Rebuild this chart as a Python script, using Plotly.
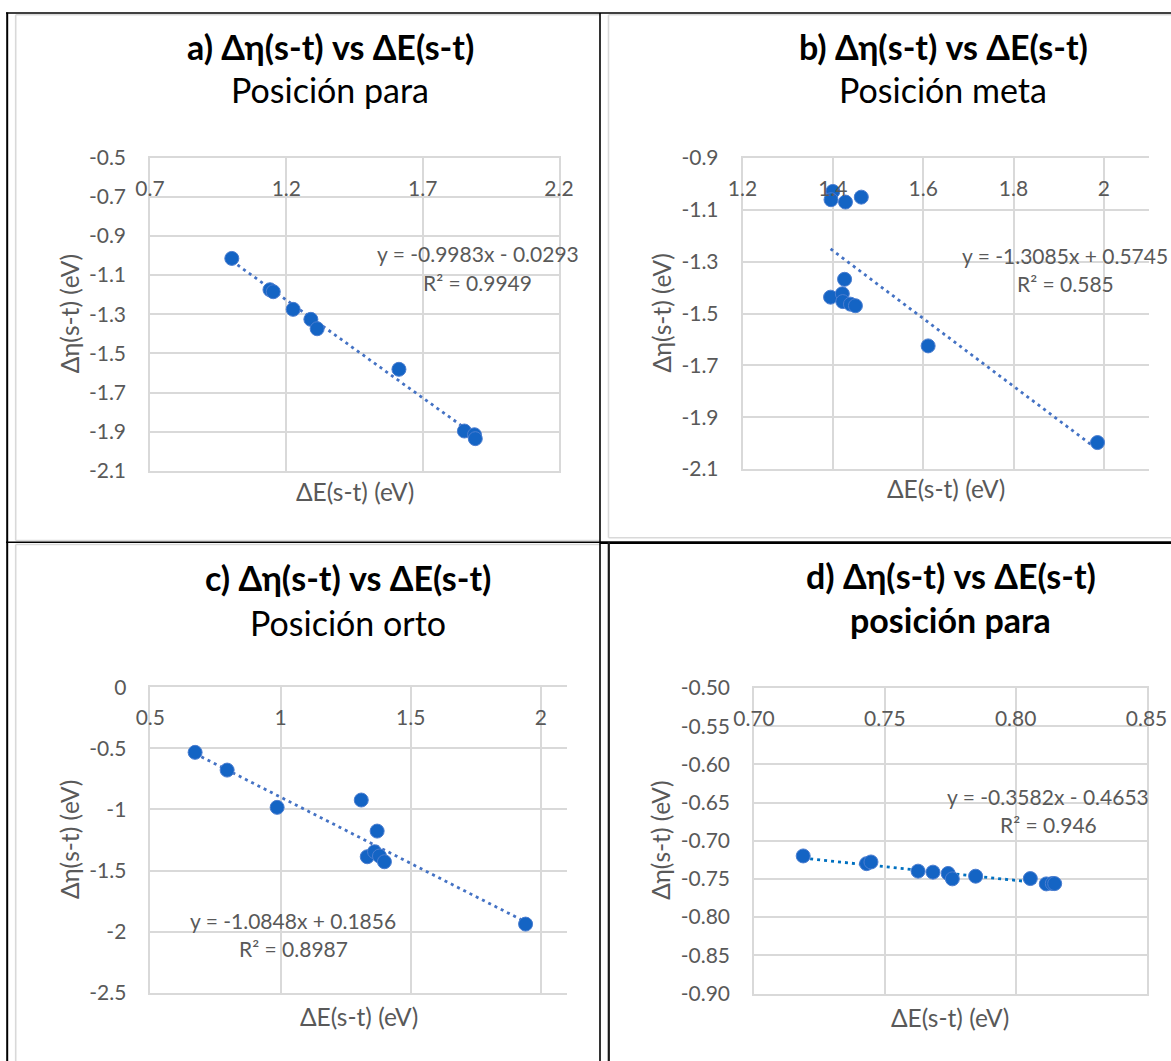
import plotly.graph_objects as go

W, H = 1171, 1061
FONT = "Lato"
GREY_TXT = "#595959"
GRID = "#d9d9d9"
MARKER = "#1464c4"
MARKER_EDGE = "#4a7dd0"

# ---------------- data ----------------
# a) posición para
a_x = [1.000, 1.140, 1.152, 1.225, 1.290, 1.313, 1.613, 1.853, 1.890, 1.893]
a_y = [-1.015, -1.175, -1.185, -1.275, -1.326, -1.374, -1.581, -1.896, -1.915, -1.935]
a_fit = (-0.9983, -0.0293)
a_eq = ["y = -0.9983x - 0.0293", "R² = 0.9949"]
a_xticks = [0.7, 1.2, 1.7, 2.2]
a_xtext = ["0.7", "1.2", "1.7", "2.2"]
a_yticks = [-0.5, -0.7, -0.9, -1.1, -1.3, -1.5, -1.7, -1.9, -2.1]
a_ytext = ["-0.5", "-0.7", "-0.9", "-1.1", "-1.3", "-1.5", "-1.7", "-1.9", "-2.1"]

# b) posición meta
b_x = [1.400, 1.396, 1.428, 1.463, 1.426, 1.395, 1.421, 1.422, 1.439, 1.450, 1.611, 1.986]
b_y = [-1.029, -1.061, -1.070, -1.051, -1.368, -1.437, -1.424, -1.454, -1.464, -1.470, -1.625, -1.998]
b_fit = (-1.3085, 0.5745)
b_eq = ["y = -1.3085x + 0.5745", "R² = 0.585"]
b_xticks = [1.2, 1.4, 1.6, 1.8, 2.0]
b_xtext = ["1.2", "1.4", "1.6", "1.8", "2"]
b_yticks = [-0.9, -1.1, -1.3, -1.5, -1.7, -1.9, -2.1]
b_ytext = ["-0.9", "-1.1", "-1.3", "-1.5", "-1.7", "-1.9", "-2.1"]

# c) posición orto
c_x = [0.672, 0.795, 0.987, 1.310, 1.371, 1.333, 1.361, 1.380, 1.399, 1.941]
c_y = [-0.533, -0.678, -0.983, -0.923, -1.177, -1.387, -1.346, -1.381, -1.428, -1.938]
c_fit = (-1.0848, 0.1856)
c_eq = ["y = -1.0848x + 0.1856", "R² = 0.8987"]
c_xticks = [0.5, 1.0, 1.5, 2.0]
c_xtext = ["0.5", "1", "1.5", "2"]
c_yticks = [0, -0.5, -1, -1.5, -2, -2.5]
c_ytext = ["0", "-0.5", "-1", "-1.5", "-2", "-2.5"]

# d) posición para
d_x = [0.7188, 0.7430, 0.7447, 0.7627, 0.7684, 0.7742, 0.7758, 0.7847, 0.8056, 0.8117, 0.8140, 0.8149]
d_y = [-0.7199, -0.7300, -0.7278, -0.7398, -0.7411, -0.7428, -0.7499, -0.7464, -0.7495, -0.7565, -0.7560, -0.7561]
d_fit = (-0.3582, -0.4653)
d_eq = ["y = -0.3582x - 0.4653", "R² = 0.946"]
d_xticks = [0.70, 0.75, 0.80, 0.85]
d_xtext = ["0.70", "0.75", "0.80", "0.85"]
d_yticks = [-0.50, -0.55, -0.60, -0.65, -0.70, -0.75, -0.80, -0.85, -0.90]
d_ytext = ["-0.50", "-0.55", "-0.60", "-0.65", "-0.70", "-0.75", "-0.80", "-0.85", "-0.90"]

titles = [
    ("a) Δη(s-t) vs ΔE(s-t)", "Posición para", False),
    ("b) Δη(s-t) vs ΔE(s-t)", "Posición meta", False),
    ("c) Δη(s-t) vs ΔE(s-t)", "Posición orto", False),
    ("d) Δη(s-t) vs ΔE(s-t)", "posición para", True),
]
x_title = "ΔE(s-t) (eV)"
y_title = "Δη(s-t) (eV)"

# ---------------- layout geometry (pixels) ----------------
panels = [
    dict(x=a_x, y=a_y, fit=a_fit, eq=a_eq, xt=(a_xticks, a_xtext), yt=(a_yticks, a_ytext),
         xr=[0.7, 2.2], yr=[-2.1, -0.5], px=(150, 559), py=(157.5, 471), closed=True,
         title_c=(330, 46, 89.5), eq_c=(477.5, 254, 282), ytit_x=69, xtit_y=491,
         tcol="#4472c4"),
    dict(x=b_x, y=b_y, fit=b_fit, eq=b_eq, xt=(b_xticks, b_xtext), yt=(b_yticks, b_ytext),
         xr=[1.2, 2.1], yr=[-2.1, -0.9], px=(742.5, 1149), py=(158, 469), closed=False,
         title_c=(943, 46, 89.5), eq_c=(1065, 255.5, 283.5), ytit_x=661, xtit_y=488,
         tcol="#4472c4"),
    dict(x=c_x, y=c_y, fit=c_fit, eq=c_eq, xt=(c_xticks, c_xtext), yt=(c_yticks, c_ytext),
         xr=[0.5, 2.1], yr=[-2.5, 0], px=(150.3, 567), py=(687.2, 992.8), closed=False,
         title_c=(348, 577, 622), eq_c=(293, 920, 948), ytit_x=69, xtit_y=1016,
         tcol="#4472c4"),
    dict(x=d_x, y=d_y, fit=d_fit, eq=d_eq, xt=(d_xticks, d_xtext), yt=(d_yticks, d_ytext),
         xr=[0.70, 0.85], yr=[-0.90, -0.50], px=(754, 1146.5), py=(688, 993.5), closed=True,
         title_c=(950.5, 575, 619), eq_c=(1048, 796.5, 824.5), ytit_x=661, xtit_y=1017,
         tcol="#0070c0"),
]

fig = go.Figure()
annotations = []
layout_axes = {}


def ann(text, cx, cy, size, color=GREY_TXT, angle=0):
    return dict(text=text, x=cx / W, y=1 - cy / H, xref="paper", yref="paper",
                xanchor="center", yanchor="middle", showarrow=False, textangle=angle,
                font=dict(family=FONT, size=size, color=color))


for i, p in enumerate(panels, start=1):
    xa = "x" if i == 1 else f"x{i}"
    ya = "y" if i == 1 else f"y{i}"
    slope, icpt = p["fit"]
    xmin, xmax = min(p["x"]), max(p["x"])
    fig.add_trace(go.Scatter(
        x=[xmin, xmax], y=[slope * xmin + icpt, slope * xmax + icpt],
        mode="lines", line=dict(color=p["tcol"], width=2.8, dash="3px,4px"),
        xaxis=xa, yaxis=ya, showlegend=False, hoverinfo="skip"))
    fig.add_trace(go.Scatter(
        x=p["x"], y=p["y"], mode="markers",
        marker=dict(size=14, color=MARKER, line=dict(color=MARKER_EDGE, width=1)),
        xaxis=xa, yaxis=ya, showlegend=False))

    x0, x1 = p["px"]
    y0, y1 = p["py"]
    kx = "xaxis" if i == 1 else f"xaxis{i}"
    ky = "yaxis" if i == 1 else f"yaxis{i}"
    layout_axes[kx] = dict(
        domain=[x0 / W, x1 / W], range=p["xr"], anchor=ya, side="top", automargin=False,
        tickvals=p["xt"][0], ticktext=p["xt"][1], ticks="",
        ticklabelposition="inside", ticklabeloverflow="allow", ticklabelstandoff=25,
        tickfont=dict(family=FONT, size=21, color=GREY_TXT),
        showgrid=True, gridcolor=GRID, gridwidth=1.5,
        showline=True, linecolor=GRID, linewidth=1.5, mirror=True, zeroline=False)
    layout_axes[ky] = dict(
        domain=[1 - y1 / H, 1 - y0 / H], range=p["yr"], anchor=xa, automargin=False,
        tickvals=p["yt"][0], ticktext=p["yt"][1], ticks="", ticklabelstandoff=18,
        tickfont=dict(family=FONT, size=21, color=GREY_TXT),
        showgrid=True, gridcolor=GRID, gridwidth=1.5,
        showline=True, linecolor=GRID, linewidth=1.5, mirror=p["closed"], zeroline=False)

    t1, t2, bold2 = titles[i - 1]
    tcx, tcy1, tcy2 = p["title_c"]
    annotations.append(ann(f"<b>{t1}</b>", tcx, tcy1, 34, color="#000000"))
    annotations.append(ann(f"<b>{t2}</b>" if bold2 else t2, tcx, tcy2, 34, color="#000000"))
    ecx, ecy1, ecy2 = p["eq_c"]
    annotations.append(ann(p["eq"][0], ecx, ecy1, 21))
    annotations.append(ann(p["eq"][1], ecx, ecy2, 21))
    annotations.append(ann(x_title, (x0 + x1) / 2, p["xtit_y"], 24.5))
    annotations.append(ann(y_title, p["ytit_x"], (y0 + y1) / 2, 24.5, angle=-90))


def line(xa, ya, xb, yb, color, width):
    return dict(type="line", xref="paper", yref="paper",
                x0=xa / W, y0=1 - ya / H, x1=xb / W, y1=1 - yb / H,
                line=dict(color=color, width=width), layer="above")


shapes = [
    # grey chart-area borders
    line(15.7, 14.8, 15.7, 540.5, "#d9d9d9", 1.6),
    line(15.7, 14.8, 600, 14.8, "#d9d9d9", 1.6),
    line(15.7, 540.5, 600, 540.5, "#d9d9d9", 1.6),
    line(608.5, 14.8, 608.5, 537.7, "#d9d9d9", 1.6),
    line(608.5, 14.8, W, 14.8, "#d9d9d9", 1.6),
    line(608.5, 537.7, W, 537.7, "#d9d9d9", 1.6),
    line(15.7, 544.5, 15.7, H, "#d9d9d9", 1.6),
    line(15.7, 544.5, 600, 544.5, "#d9d9d9", 1.6),
    # black table borders
    line(7.2, 12.5, 7.2, H, "#000000", 2),
    line(6, 13, W, 13, "#000000", 1.6),
    line(600, 13, 600, H, "#000000", 1.6),
    line(6, 542.3, 600, 542.3, "#000000", 1.6),
    line(600, 542.6, W, 542.6, "#000000", 2.6),
    line(608.8, 542, 608.8, H, "#1a1a1a", 2.2),
]

fig.update_layout(
    width=W, height=H, margin=dict(l=0, r=0, t=0, b=0, pad=0), autosize=False,
    paper_bgcolor="white", plot_bgcolor="white",
    showlegend=False, annotations=annotations, shapes=shapes,
    font=dict(family=FONT, color=GREY_TXT),
    **layout_axes)

fig.write_html("out.html", config={"displayModeBar": False},
               post_script="document.body.style.margin='0';document.body.style.overflow='hidden';")
